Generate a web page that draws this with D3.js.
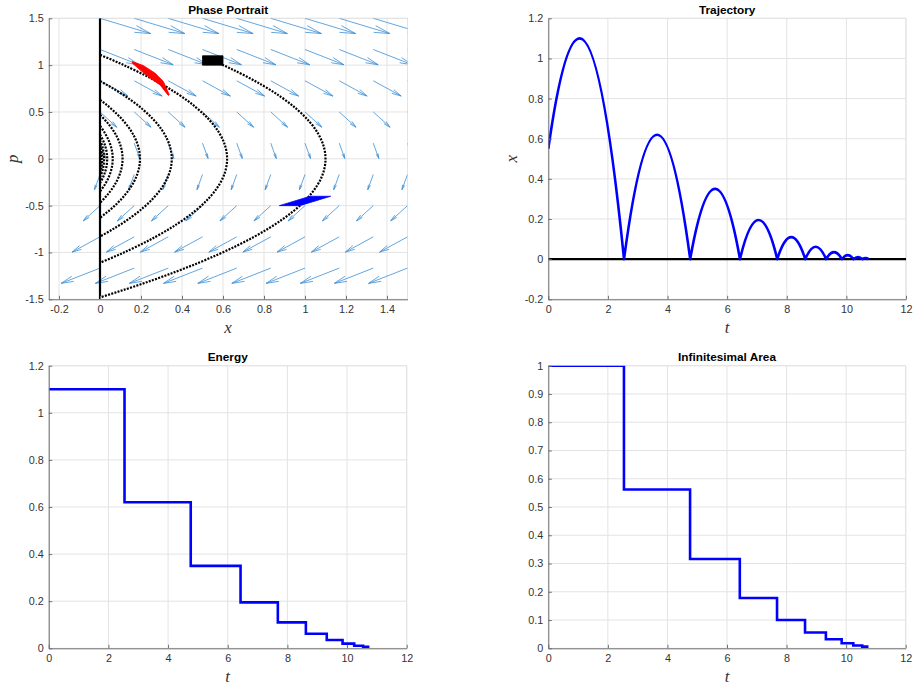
<!DOCTYPE html>
<html><head><meta charset="utf-8">
<script src="https://cdn.jsdelivr.net/npm/d3@7/dist/d3.min.js"></script>
<style>body{margin:0;background:#fff}svg{display:block}</style>
</head><body><svg id="c" width="914" height="686"></svg>
<script>
// ---------- data ----------
const bounceTimes = [2.54, 4.76, 6.43, 7.68, 8.62, 9.32, 9.85, 10.24, 10.54, 10.75];
const energy = [1.1, 0.62, 0.35, 0.195, 0.11, 0.062, 0.035, 0.02, 0.011, 0.006];
const area = [1, 0.562, 0.316, 0.178, 0.1, 0.056, 0.032, 0.018, 0.01, 0.006];
const trajStartT = 0, trajStartX = 0.55, firstPeakT = 1.05;

const phaseStartX = [0.55, 0, 0, 0, 0, 0, 0, 0, 0, 0];
const phaseTopP = [1.05, 1.11, 0.83, 0.63, 0.47, 0.35, 0.26, 0.2, 0.15, 0.11];
const phaseBottomP = [-1.48, -1.11, -0.83, -0.63, -0.47, -0.35, -0.26, -0.2, -0.15, -0.11];

const quiverX = [0, 0.167, 0.333, 0.5, 0.667, 0.833, 1, 1.167, 1.333, 1.5];
const quiverP = [1.5, 1.167, 0.833, 0.5, 0.167, -0.167, -0.5, -0.833, -1.167];
const quiverU = [0.247, 0.19, 0.136, 0.082, 0.027, -0.027, -0.082, -0.136, -0.19];
const quiverV = [-0.163, -0.163, -0.163, -0.163, -0.163, -0.163, -0.163, -0.163, -0.163];

const boxX = [0.5, 0.6, 0.6, 0.5], boxP = [1.0, 1.0, 1.1, 1.1];
const redX = [0.158, 0.211, 0.268, 0.309, 0.338, 0.333, 0.293, 0.244, 0.195, 0.158];
const redP = [1.038, 0.996, 0.915, 0.826, 0.684, 0.677, 0.789, 0.862, 0.950, 1.021];
const blueX = [0.875, 0.975, 1.125, 1.025], blueP = [-0.5, -0.5, -0.4, -0.4];

const phaseXTicks = [-0.2, 0, 0.2, 0.4, 0.6, 0.8, 1, 1.2, 1.4];
const phaseYTicks = [-1.5, -1, -0.5, 0, 0.5, 1, 1.5];
const tTicks = [0, 2, 4, 6, 8, 10, 12];
const trajYTicks = [-0.2, 0, 0.2, 0.4, 0.6, 0.8, 1, 1.2];
const energyYTicks = [0, 0.2, 0.4, 0.6, 0.8, 1, 1.2];
const areaYTicks = [0, 0.1, 0.2, 0.3, 0.4, 0.5, 0.6, 0.7, 0.8, 0.9, 1];

// ---------- drawing ----------
const svg = d3.select("#c");
const GRID = "#e3e3e3", AXC = "#707070", TXT = "#333";
let clipId = 0;

function makeAxes(o) {
  const x = d3.scaleLinear().domain(o.xd).range([o.x0, o.x1]);
  const y = d3.scaleLinear().domain(o.yd).range([o.y1, o.y0]);
  const g = svg.append("g");
  g.selectAll(".gx").data(o.xt).join("line")
    .attr("x1", d => x(d)).attr("x2", d => x(d)).attr("y1", o.y0).attr("y2", o.y1)
    .attr("stroke", GRID).attr("stroke-width", 1);
  g.selectAll(".gy").data(o.yt).join("line")
    .attr("y1", d => y(d)).attr("y2", d => y(d)).attr("x1", o.x0).attr("x2", o.x1)
    .attr("stroke", GRID).attr("stroke-width", 1);
  g.append("line").attr("x1", o.x0).attr("x2", o.x1).attr("y1", o.y0).attr("y2", o.y0).attr("stroke", GRID);
  g.append("line").attr("x1", o.x1).attr("x2", o.x1).attr("y1", o.y0).attr("y2", o.y1).attr("stroke", GRID);
  const id = "clip" + (clipId++);
  svg.append("clipPath").attr("id", id).append("rect")
    .attr("x", o.x0).attr("y", o.y0).attr("width", o.x1 - o.x0).attr("height", o.y1 - o.y0);
  const plot = svg.append("g").attr("clip-path", `url(#${id})`);
  const axG = svg.append("g");
  const ax = d3.axisBottom(x).tickValues(o.xt).tickFormat(d => String(d))
    .tickSizeInner(-3.5).tickSizeOuter(0).tickPadding(6);
  axG.append("g").attr("transform", `translate(0,${o.y1})`).call(ax);
  const ay = d3.axisLeft(y).tickValues(o.yt).tickFormat(d => String(d))
    .tickSizeInner(-3.5).tickSizeOuter(0).tickPadding(5);
  axG.append("g").attr("transform", `translate(${o.x0},0)`).call(ay);
  axG.selectAll(".domain").attr("stroke", AXC);
  axG.selectAll(".tick line").attr("stroke", AXC);
  axG.selectAll("text").attr("fill", TXT).style("font-family", "'Liberation Sans', Arial, sans-serif").style("font-size", "10.8px");
  svg.append("text").attr("x", (o.x0 + o.x1) / 2).attr("y", o.y0 - 4.5).attr("text-anchor", "middle")
    .style("font-family", "'Liberation Sans', Arial, sans-serif").style("font-size", "11.8px").style("font-weight", "bold")
    .text(o.title);
  svg.append("text").attr("x", (o.x0 + o.x1) / 2).attr("y", o.y1 + 34).attr("text-anchor", "middle")
    .style("font-family", "'Liberation Serif', 'Times New Roman', serif").style("font-style", "italic").style("font-size", "17px")
    .attr("fill", "#333")
    .text(o.xl);
  if (o.yl) {
    svg.append("text").attr("transform", `translate(${o.x0 - 31},${(o.y0 + o.y1) / 2}) rotate(-90)`).attr("text-anchor", "middle")
      .style("font-family", "'Liberation Serif', 'Times New Roman', serif").style("font-style", "italic").style("font-size", "17px")
      .attr("fill", "#333")
      .text(o.yl);
  }
  return {x, y, plot};
}

// Phase portrait
const P = makeAxes({x0: 48.75, x1: 407.5, y0: 18.3, y1: 299.3, xd: [-0.25, 1.5], yd: [-1.5, 1.5],
  xt: phaseXTicks, yt: phaseYTicks, title: "Phase Portrait", xl: "x", yl: "p"});

const arrows = [];
quiverP.forEach((p, i) => quiverX.forEach(xv => arrows.push({x: xv, p, u: quiverU[i], v: quiverV[i]})));
P.plot.append("g").selectAll("path").data(arrows).join("path")
  .attr("d", a => {
    const tx = P.x(a.x), ty = P.y(a.p), hx = P.x(a.x + a.u), hy = P.y(a.p + a.v);
    const dx = hx - tx, dy = hy - ty;
    const al = 0.3, be = 0.22;
    const b1x = hx - al * (dx + be * dy), b1y = hy - al * (dy - be * dx);
    const b2x = hx - al * (dx - be * dy), b2y = hy - al * (dy + be * dx);
    const pa = d3.path();
    pa.moveTo(tx, ty); pa.lineTo(hx, hy);
    pa.moveTo(b1x, b1y); pa.lineTo(hx, hy); pa.lineTo(b2x, b2y);
    return pa.toString();
  })
  .attr("fill", "none").attr("stroke", "#3b8fd6").attr("stroke-width", 0.8);

P.plot.append("line").attr("x1", P.x(0)).attr("x2", P.x(0)).attr("y1", P.y(-1.5)).attr("y2", P.y(1.5))
  .attr("stroke", "#000").attr("stroke-width", 2.2);

P.plot.append("g").selectAll("path").data(energy).join("path")
  .attr("d", (E, i) => {
    const pa = d3.path();
    const xs = phaseStartX[i], pt = phaseTopP[i], pb = phaseBottomP[i];
    pa.moveTo(P.x(xs), P.y(pt));
    pa.quadraticCurveTo(P.x(E), P.y(pt / 2), P.x(E), P.y(0));
    pa.quadraticCurveTo(P.x(E), P.y(pb / 2), P.x(0), P.y(pb));
    return pa.toString();
  })
  .attr("fill", "none").attr("stroke", "#000").attr("stroke-width", 2.2).attr("stroke-dasharray", "2,1.3");

const poly = (xs, ps) => xs.map((v, i) => [P.x(v), P.y(ps[i])]);
P.plot.append("path").attr("d", d3.line()(poly(redX, redP)) + "Z").attr("fill", "#ff0000").attr("stroke", "#ff0000").attr("stroke-width", 0.8);
P.plot.append("path").attr("d", d3.line()(poly(blueX, blueP)) + "Z").attr("fill", "#0000ff").attr("stroke", "#0000ff").attr("stroke-width", 0.8);
P.plot.append("path").attr("d", d3.line()(poly(boxX, boxP)) + "Z").attr("fill", "#000").attr("stroke", "#000").attr("stroke-width", 0.8);

// Trajectory
const T = makeAxes({x0: 548.3, x1: 906, y0: 18.3, y1: 299.3, xd: [0, 12], yd: [-0.2, 1.2],
  xt: tTicks, yt: trajYTicks, title: "Trajectory", xl: "t", yl: "x"});
T.plot.append("line").attr("x1", T.x(0)).attr("x2", T.x(12)).attr("y1", T.y(0)).attr("y2", T.y(0))
  .attr("stroke", "#000").attr("stroke-width", 2.2);
{
  const pa = d3.path();
  pa.moveTo(T.x(trajStartT), T.y(trajStartX));
  pa.quadraticCurveTo(T.x((trajStartT + firstPeakT) / 2), T.y(energy[0]), T.x(firstPeakT), T.y(energy[0]));
  pa.quadraticCurveTo(T.x((firstPeakT + bounceTimes[0]) / 2), T.y(energy[0]), T.x(bounceTimes[0]), T.y(0));
  for (let k = 1; k < bounceTimes.length; k++) {
    const a = bounceTimes[k - 1], b = bounceTimes[k], m = (a + b) / 2, h = energy[k];
    pa.quadraticCurveTo(T.x((a + m) / 2), T.y(h), T.x(m), T.y(h));
    pa.quadraticCurveTo(T.x((m + b) / 2), T.y(h), T.x(b), T.y(0));
  }
  T.plot.append("path").attr("d", pa.toString()).attr("fill", "none").attr("stroke", "#0000ff")
    .attr("stroke-width", 2.6).attr("stroke-linejoin", "round");
}

function stepData(vals) {
  const pts = [[0, vals[0]]];
  for (let k = 1; k < vals.length; k++) pts.push([bounceTimes[k - 1], vals[k]]);
  pts.push([bounceTimes[bounceTimes.length - 1], vals[vals.length - 1]]);
  return pts;
}
const En = makeAxes({x0: 48.75, x1: 406.7, y0: 365.7, y1: 648.3, xd: [0, 12], yd: [0, 1.2],
  xt: tTicks, yt: energyYTicks, title: "Energy", xl: "t"});
En.plot.append("path").attr("d", d3.line().x(d => En.x(d[0])).y(d => En.y(d[1])).curve(d3.curveStepAfter)(stepData(energy)))
  .attr("fill", "none").attr("stroke", "#0000ff").attr("stroke-width", 2.6);

const Ar = makeAxes({x0: 548.3, x1: 905.7, y0: 365.7, y1: 648.3, xd: [0, 12], yd: [0, 1],
  xt: tTicks, yt: areaYTicks, title: "Infinitesimal Area", xl: "t"});
Ar.plot.append("path").attr("d", d3.line().x(d => Ar.x(d[0])).y(d => Ar.y(d[1])).curve(d3.curveStepAfter)(stepData(area)))
  .attr("fill", "none").attr("stroke", "#0000ff").attr("stroke-width", 2.6);
</script></body></html>
